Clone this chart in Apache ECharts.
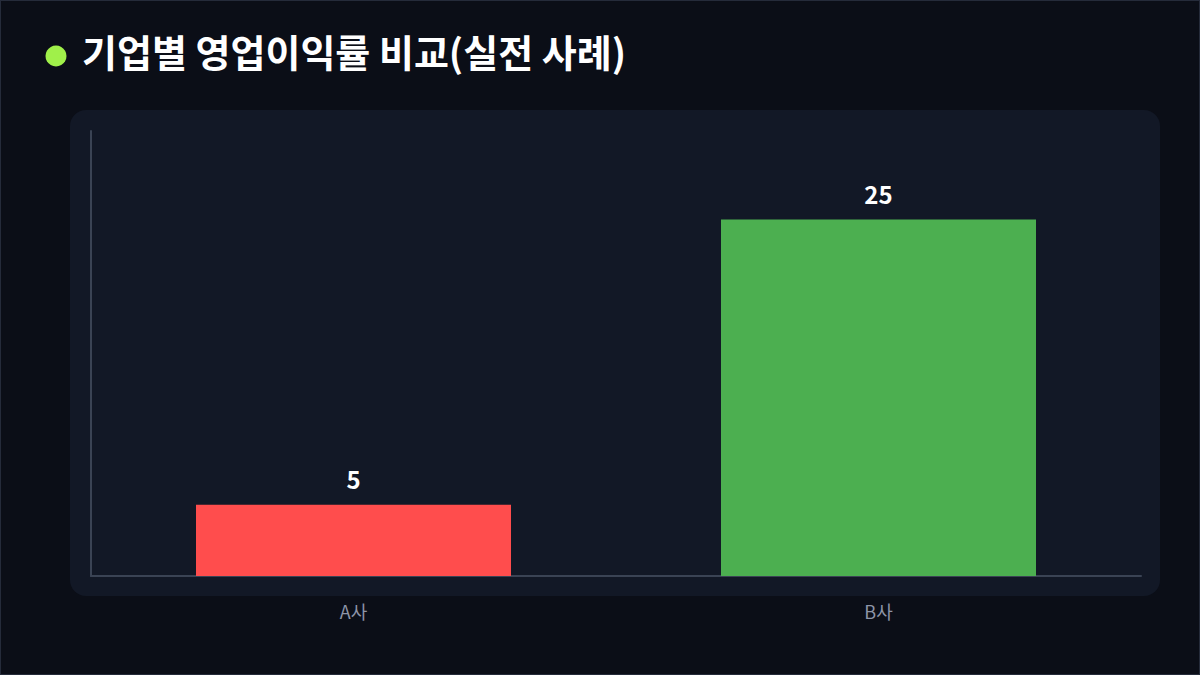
<!DOCTYPE html>
<html><head><meta charset="utf-8">
<script src="https://cdn.jsdelivr.net/npm/echarts@6/dist/echarts.min.js"></script>
<style>
html,body{margin:0;padding:0;background:#0b0e17;}
#c{width:1200px;height:675px;box-sizing:border-box;border:1px solid #252b3a;}
</style></head><body>
<div id="c"></div>
<script>
const categories = ['A사', 'B사'];
const values = [5, 25];
const barColors = ['#ff4d4d', '#4caf50'];
const titleText = '기업별 영업이익률 비교(실전 사례)';

const chart = echarts.init(document.getElementById('c'), null, {renderer: 'svg'});
const font = '"Noto Sans CJK KR", "Noto Sans", sans-serif';
chart.setOption({
  backgroundColor: '#0b0e17',
  title: {
    text: titleText, left: 76, top: 25,
    textStyle: {color: '#ffffff', fontSize: 38, fontWeight: 'bold', fontFamily: font}
  },
  graphic: [
    {type: 'circle', shape: {cx: 55, cy: 55, r: 10.5}, style: {fill: '#a0f04a'}, z: 10},
    {type: 'rect', shape: {x: 69, y: 109, width: 1090, height: 486, r: 16}, style: {fill: '#121826'}, z: -10, silent: true}
  ],
  grid: {left: 90, right: 58, top: 130, bottom: 98},
  xAxis: {
    type: 'category', data: categories,
    axisLine: {lineStyle: {color: '#3a4354', width: 2}},
    axisTick: {show: false},
    axisLabel: {color: '#8d95a8', fontSize: 18, margin: 26, fontFamily: font}
  },
  yAxis: {
    type: 'value', min: 0, max: 31.2,
    axisLine: {show: true, lineStyle: {color: '#3a4354', width: 2}},
    axisTick: {show: false}, axisLabel: {show: false}, splitLine: {show: false}
  },
  series: [{
    type: 'bar', barWidth: '60%',
    data: values.map((v, i) => ({value: v, itemStyle: {color: barColors[i]}})),
    label: {show: true, position: 'top', distance: 14, color: '#ffffff', fontSize: 24, fontWeight: 'bold', fontFamily: font}
  }]
});
</script></body></html>
